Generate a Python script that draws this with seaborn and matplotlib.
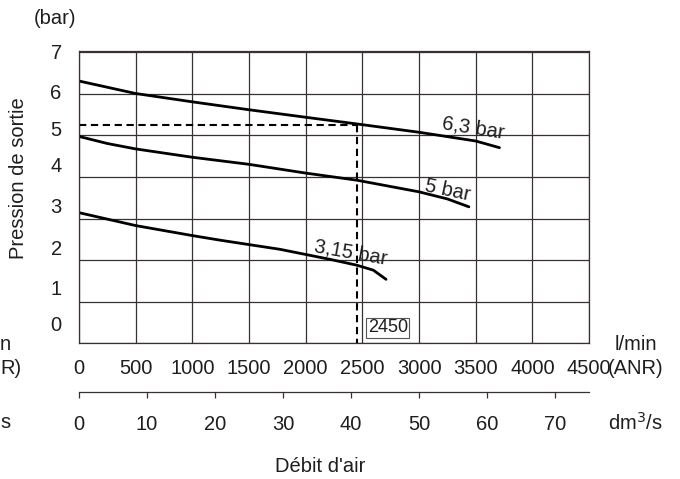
import numpy as np
import pandas as pd
import matplotlib
matplotlib.use('Agg')
import matplotlib.pyplot as plt
import seaborn as sns

# Curves: air flow (l/min ANR) vs outlet pressure (bar)
flow_63 = [0, 250, 500, 1000, 1500, 2000, 2450, 3000, 3500, 3710]
pres_63 = [6.30, 6.15, 6.00, 5.80, 5.61, 5.43, 5.27, 5.07, 4.86, 4.70]

flow_5 = [0, 250, 500, 1000, 1500, 2000, 2450, 3000, 3250, 3440]
pres_5 = [4.97, 4.80, 4.67, 4.47, 4.30, 4.09, 3.92, 3.64, 3.47, 3.28]

flow_315 = [0, 500, 1000, 1244, 1774, 2214, 2450, 2597, 2709]
pres_315 = [3.14, 2.83, 2.59, 2.48, 2.26, 2.02, 1.88, 1.76, 1.54]

# Reading example (dashed guide)
read_flow = 2450
read_pres = 5.25

xticks_lpm = list(range(0, 4501, 500))
xticks_dm3 = list(range(0, 71, 10))
yticks = list(range(0, 8))
# the y labels in the original drift upward from their grid lines
ylabel_pos = [0.49, 1.35, 2.31, 3.31, 4.29, 5.15, 6.04, 7.02]
ylabel_txt = ['0', '1', '2', '3', '4', '5', '6', '7']

GRID = '#3a3030'
TXT = '#1e1e1e'
FS = 14.5

sns.set_theme(style='white')
plt.rcParams['font.family'] = ['Liberation Sans', 'DejaVu Sans']

fig = plt.figure(figsize=(6.8, 4.79), dpi=100)
ax = fig.add_axes([0.1162, 0.2829, 0.75, 0.6106])

for fx, py in ((flow_63, pres_63), (flow_5, pres_5), (flow_315, pres_315)):
    sns.lineplot(x=fx, y=py, color='black', linewidth=2.0, ax=ax, sort=False)

# dashed reading lines
ax.plot([0, read_flow], [read_pres, read_pres], color='black', lw=1.5, dashes=(3.5, 2.2))
ax.plot([read_flow, read_flow], [read_pres, 0], color='black', lw=1.5, dashes=(3.5, 2.2))

ax.set_xlim(0, 4500)
ax.set_ylim(0, 7)
ax.set_xticks(xticks_lpm)
ax.set_xticklabels([str(v) for v in xticks_lpm])
ax.set_yticks(yticks)
ax.set_yticklabels([''] * len(yticks))
ax.set_yticks(ylabel_pos, minor=True)
ax.set_yticklabels(ylabel_txt, minor=True)
ax.grid(True, which='major', color=GRID, linewidth=0.9)
ax.tick_params(axis='both', which='major', direction='out', length=3, width=0.9,
               color=GRID, labelsize=FS, labelcolor=TXT)
ax.tick_params(axis='x', which='major', pad=8.5)
ax.tick_params(axis='y', which='minor', length=0, pad=12.5, labelsize=FS, labelcolor=TXT)
for s in ax.spines.values():
    s.set_color(GRID)
    s.set_linewidth(0.9)
ax.set_xlabel('')
ax.set_ylabel('')

# second flow scale in dm3/s
sec = ax.secondary_xaxis(-0.165, functions=(lambda v: v / 60.0, lambda v: v * 60.0))
sec.set_xticks(xticks_dm3)
sec.set_xticklabels([str(v) for v in xticks_dm3])
sec.tick_params(direction='out', length=4, width=0.9, color=GRID, pad=13,
                labelsize=FS, labelcolor=TXT)
sec.spines['bottom'].set_color(GRID)
sec.spines['bottom'].set_linewidth(0.9)

# curve labels
ax.text(3476, 5.16, '6,3 bar', fontsize=FS, rotation=-9, ha='center', va='center', color=TXT)
ax.text(3256, 3.67, '5 bar', fontsize=FS, rotation=-12, ha='center', va='center', color=TXT)
ax.text(2400, 2.19, '3,15 bar', fontsize=FS, rotation=-10, ha='center', va='center', color=TXT)

ax.text(2548, 0.38, '2450', fontsize=13, ha='left', va='center', color=TXT,
        bbox=dict(boxstyle='square,pad=0.08', fc='white', ec='#555555', lw=0.8))

# axis texts
fig.text(55 / 680, 1 - 19 / 479, '(bar)', fontsize=FS, ha='center', va='center', color=TXT)
fig.text(19 / 680, 1 - 178 / 479, 'Pression de sortie', fontsize=FS, rotation=90,
         ha='center', va='center', color=TXT)
fig.text(636 / 680, 1 - 345 / 479, 'l/min', fontsize=FS, ha='center', va='center', color=TXT)
fig.text(636 / 680, 1 - 368 / 479, '(ANR)', fontsize=FS, ha='center', va='center', color=TXT)
fig.text(635 / 680, 1 - 423 / 479, 'dm$^3$/s', fontsize=FS, ha='center', va='center', color=TXT)
fig.text(320 / 680, 1 - 467 / 479, "Débit d'air", fontsize=FS, ha='center', va='center', color=TXT)

# visible ends of the unit labels of the neighbouring chart
fig.text(0, 1 - 345 / 479, 'n', fontsize=FS, ha='left', va='center', color=TXT)
fig.text(0, 1 - 368 / 479, 'R)', fontsize=FS, ha='left', va='center', color=TXT)
fig.text(0, 1 - 423 / 479, 's', fontsize=FS, ha='left', va='center', color=TXT)

fig.savefig('out.png', dpi=100, facecolor='white')
